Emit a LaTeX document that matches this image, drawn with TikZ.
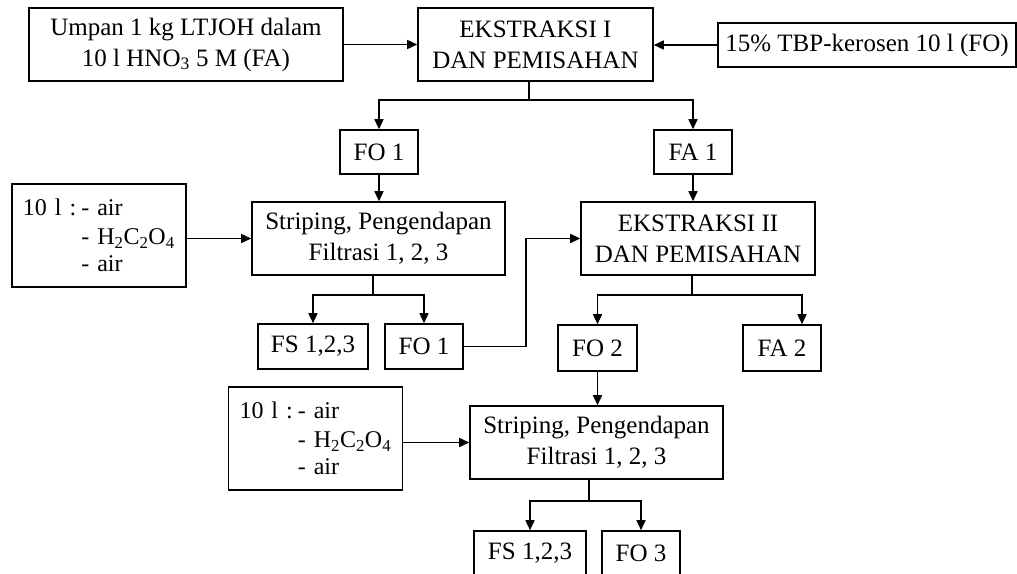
\documentclass[tikz,border=0pt]{standalone}
\usepackage{fontspec}
\setmainfont{Liberation Serif}
\usetikzlibrary{arrows.meta}
\tikzset{
  box/.style={draw, line width=1.6pt, rectangle, inner sep=0pt, align=center,
    font=\fontsize{25}{31}\selectfont},
  lbox/.style={box, align=left, text width=152pt, inner xsep=11pt,
    font=\fontsize{24}{29}\selectfont},
  ln/.style={line width=1.6pt},
  arr/.style={line width=1.6pt, -{Triangle[length=10pt,width=9pt]}}
}
\newcommand{\wetgap}{\hspace{5pt}}
\newcommand{\wetmix}{\mbox{10 l :\wetgap- air}\\[0pt]\mbox{\phantom{10 l :\wetgap}- H\textsubscript{2}C\textsubscript{2}O\textsubscript{4}}\\[-2pt]\mbox{\phantom{10 l :\wetgap}- air}}
\begin{document}
\begin{tikzpicture}[x=1pt,y=-1pt]
\clip (0,0) rectangle (1017,573);
\node[box, minimum width=314pt, minimum height=73pt] (A) at (186,44.5) {Umpan 1 kg LTJOH dalam\\10 l HNO\textsubscript{3} 5 M (FA)};
\node[box, minimum width=235pt, minimum height=73pt] (E1) at (535.5,44.5) {EKSTRAKSI I\\DAN PEMISAHAN};
\node[box, minimum width=298pt, minimum height=44pt] (TBP) at (867,45) {15\% TBP-kerosen 10 l (FO)};
\node[box, minimum width=78pt, minimum height=44pt] (FO1) at (379,152) {FO 1};
\node[box, minimum width=78pt, minimum height=44pt] (FA1) at (693,152) {FA 1};
\node[lbox, minimum height=103pt] (L1) at (99,235.5) {\wetmix};
\node[box, minimum width=253pt, minimum height=73pt] (S1) at (378.5,238.5) {Striping, Pengendapan\\Filtrasi 1, 2, 3};
\node[box, minimum width=234pt, minimum height=73pt] (E2) at (698,238.5) {EKSTRAKSI II\\DAN PEMISAHAN};
\node[box, minimum width=110pt, minimum height=45pt] (FS1) at (313,346.5) {FS 1,2,3};
\node[box, minimum width=78pt, minimum height=45pt] (FO1b) at (424,346.5) {FO 1};
\node[box, minimum width=79pt, minimum height=46pt] (FO2) at (597.5,348) {FO 2};
\node[box, minimum width=78pt, minimum height=46pt] (FA2) at (782,348) {FA 2};
\node[lbox, minimum height=103pt] (L2) at (315.5,438.5) {\wetmix};
\node[box, minimum width=253pt, minimum height=73pt] (S2) at (596.5,442.5) {Striping, Pengendapan\\Filtrasi 1, 2, 3};
\node[box, minimum width=112pt, minimum height=45pt] (FS2) at (530,553.5) {FS 1,2,3};
\node[box, minimum width=78pt, minimum height=45pt] (FO3) at (641,553.5) {FO 3};

\coordinate (j1) at (529,100);
\coordinate (j2) at (373,295);
\coordinate (k) at (526,347);
\coordinate (j3) at (692,295);
\coordinate (fa2in) at (802,0);
\coordinate (j4) at (589,501);

\draw[arr] (A.east) -- (E1.west);
\draw[arr] (TBP.west) -- (TBP.west -| E1.east);
\draw[ln] (E1.south -| j1) -- (j1);
\draw[arr] (j1) -| (FO1.north);
\draw[arr] (j1) -| (FA1.north);
\draw[arr] (FO1.south) -- (FO1.south |- S1.north);
\draw[arr] (FA1.south) -- (FA1.south |- E2.north);
\draw[arr] (L1.east |- S1.west) -- (S1.west);
\draw[ln] (S1.south -| j2) -- (j2);
\draw[arr] (j2) -| (FS1.north);
\draw[arr] (j2) -| (FO1b.north);
\draw[arr] (FO1b.east) -- (FO1b.east -| k) |- (E2.west);
\draw[ln] (E2.south -| j3) -- (j3);
\draw[arr] (j3) -| (FO2.north);
\draw[arr] (j3) -| (fa2in |- FA2.north);
\draw[arr] (FO2.south) -- (FO2.south |- S2.north);
\draw[arr] (L2.east |- S2.west) -- (S2.west);
\draw[ln] (S2.south -| j4) -- (j4);
\draw[arr] (j4) -| (FS2.north);
\draw[arr] (j4) -| (FO3.north);
\end{tikzpicture}
\end{document}
